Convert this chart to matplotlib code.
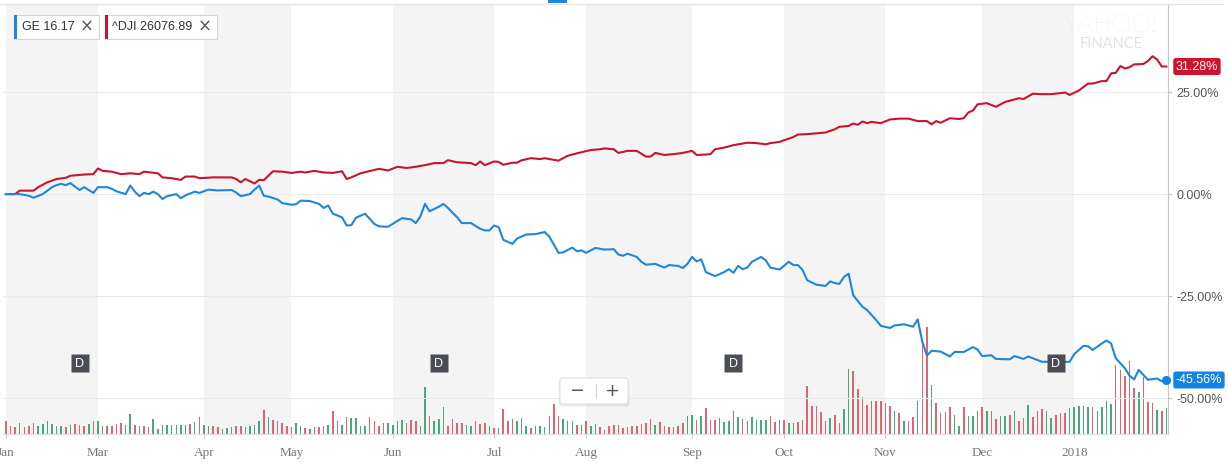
import matplotlib
matplotlib.use("Agg")
import matplotlib.pyplot as plt
from matplotlib import transforms
from matplotlib.patches import Rectangle, FancyBboxPatch
from matplotlib.lines import Line2D

W, H, DPI = 1228, 469, 100

# ---------------- data (trading-day index 0 = 31 Jan 2017) ----------------
month_days = [0, 20, 43, 62, 84, 106, 126, 149, 169, 191, 212, 232]
month_labels = ["Jan", "Mar", "Apr", "May", "Jun", "Jul", "Aug", "Sep", "Oct", "Nov", "Dec", "2018"]
last_day = 252

dji_day = [0, 2, 3, 6, 7, 9, 11, 13, 14, 17, 19, 20, 21, 23, 25, 27, 29, 30, 33, 34,
           36, 38, 39, 41, 42, 45, 49, 50, 51, 52, 54, 55, 56, 58, 60, 62, 64, 65, 67, 69,
           71, 73, 74, 75, 77, 81, 83, 85, 87, 89, 91, 93, 95, 96, 98, 101, 102, 103, 104, 106,
           107, 108, 110, 111, 112, 114, 116, 117, 120, 122, 124, 127, 129, 130, 132, 133, 135, 137, 139, 140,
           141, 143, 145, 147, 149, 150, 152, 153, 154, 156, 158, 161, 163, 165, 166, 168, 170, 171, 172, 174,
           176, 178, 180, 181, 183, 184, 185, 186, 187, 188, 190, 192, 194, 196, 198, 200, 201, 202, 203, 205,
           207, 208, 209, 210, 211, 213, 215, 217, 220, 221, 223, 225, 227, 230, 231, 233, 235, 236, 238, 239,
           240, 241, 242, 243, 244, 245, 247, 248, 249, 250, 251, 252]
dji_pct = [0, 0, 0.85, 0.85, 1.7, 2.9, 3.7, 4.0, 4.5, 4.8, 4.9, 6.3, 5.7, 5.5, 4.9, 5.1, 4.9, 5.5, 5.1, 4.1,
           3.9, 3.5, 4.3, 4.3, 3.9, 4.1, 4.1, 3.7, 2.9, 3.7, 2.6, 3.5, 3.4, 5.6, 5.5, 5.2, 5.5, 5.3, 5.7, 5.3,
           5.2, 5.6, 3.7, 4.1, 5.1, 6.2, 5.8, 6.7, 6.4, 6.7, 7.1, 7.6, 7.6, 8.3, 7.8, 7.6, 7.1, 8.0, 7.1, 8.0,
           7.9, 7.2, 7.7, 7.7, 8.3, 8.8, 8.6, 8.8, 8.2, 9.4, 10.0, 10.8, 11.0, 11.2, 11.0, 10.1, 10.6, 10.6, 9.2, 9.2,
           10.1, 9.6, 9.8, 10.1, 10.6, 9.6, 9.7, 9.8, 11.0, 11.4, 12.0, 12.6, 12.5, 12.2, 12.5, 12.8, 13.6, 14.0, 14.6, 14.7,
           14.9, 15.1, 15.9, 16.5, 16.7, 17.3, 17.0, 17.8, 17.4, 17.7, 17.4, 18.3, 18.5, 18.5, 17.9, 17.9, 17.1, 17.9, 17.5, 18.6,
           18.4, 18.6, 20.0, 20.5, 22.0, 22.3, 21.4, 22.6, 23.5, 23.3, 24.6, 24.5, 24.5, 24.9, 24.3, 25.4, 27.1, 27.1, 27.7, 27.7,
           29.6, 29.7, 31.4, 30.8, 31.1, 31.8, 31.9, 32.6, 33.8, 33.0, 31.28, 31.28]

ge_day = [0, 3, 5, 6, 8, 10, 11, 12, 13, 14, 16, 17, 19, 20, 22, 23, 24, 26, 27, 28,
          29, 30, 31, 32, 33, 34, 35, 37, 38, 39, 41, 42, 44, 46, 49, 50, 51, 53, 54, 55,
          56, 57, 59, 60, 62, 63, 64, 66, 68, 69, 70, 71, 73, 74, 75, 76, 78, 80, 81, 83,
          85, 86, 88, 89, 90, 91, 92, 94, 95, 96, 98, 99, 101, 103, 104, 105, 106, 107, 108, 110,
          111, 113, 115, 117, 118, 120, 121, 123, 124, 125, 126, 128, 130, 132, 133, 134, 135, 137, 138, 139,
          141, 143, 144, 146, 147, 148, 149, 150, 151, 152, 154, 156, 157, 158, 159, 160, 161, 162, 164, 165,
          166, 168, 170, 171, 172, 173, 174, 176, 178, 179, 180, 181, 182, 183, 184, 185, 186, 187, 189, 190,
          192, 193, 195, 197, 198, 199, 200, 201, 203, 205, 206, 208, 210, 211, 212, 214, 215, 218, 219, 221,
          222, 225, 227, 228, 231, 232, 234, 235, 236, 238, 239, 240, 241, 243, 244, 245, 246, 247, 248, 250,
          251, 252]
ge_pct = [0, 0, -0.4, -0.9, 0, 1.7, 2.2, 2.5, 2.2, 2.7, 1.0, 1.7, 0.3, 1.7, 1.7, 1.3, 0.7, 0, 2.1, 0.6,
          -0.5, 0.3, 0, 0.6, 0, -1.2, -0.5, 0, -1.0, -0.3, 0.6, 0.3, 1.1, 0.9, 1.0, 0.4, -0.5, 0, 1.1, 2.1,
          -0.4, -0.6, -1.3, -2.2, -2.6, -2.5, -1.6, -1.7, -2.4, -3.4, -2.8, -4.8, -5.7, -7.7, -7.6, -5.8, -4.8, -7.3, -7.9, -8.0,
          -6.6, -5.9, -6.2, -7.1, -5.5, -2.4, -4.2, -3.1, -2.4, -3.4, -5.7, -7.1, -7.1, -8.5, -8.9, -8.9, -7.7, -8.1, -11.2, -12.2,
          -10.9, -9.9, -9.8, -9.3, -10.4, -14.4, -14.3, -13.1, -14.0, -13.8, -14.4, -13.2, -13.6, -13.5, -14.8, -15.1, -14.6, -15.4, -16.6, -17.3,
          -17.1, -18.0, -17.4, -17.6, -18.1, -17.1, -15.4, -16.5, -16.0, -19.1, -20.1, -19.1, -18.4, -19.3, -17.6, -18.4, -18.0, -16.6, -15.4, -16.2,
          -18.0, -18.5, -16.6, -17.4, -17.4, -18.6, -21.1, -22.2, -22.5, -21.4, -21.8, -22.0, -20.3, -19.5, -24.8, -26.2, -27.6, -28.4, -30.9, -32.3,
          -32.8, -32.2, -31.9, -32.5, -30.7, -36.2, -39.6, -38.4, -38.6, -39.8, -38.7, -38.7, -37.5, -38.1, -39.7, -39.5, -40.4, -40.5, -39.7, -40.4,
          -39.8, -41.1, -41.1, -41.2, -41.1, -39.2, -37.2, -37.3, -38.2, -36.6, -35.9, -36.6, -40.2, -42.7, -44.5, -45.4, -43.1, -44.3, -45.5, -45.2,
          -45.9, -45.56]

# GE volume, millions of shares, one bar per trading day
vol_m = [32, 21, 17, 27, 18, 19, 28, 19, 25, 32,
         25, 21, 21, 17, 23, 25, 23, 21, 25, 32,
         33, 21, 19, 21, 25, 28, 23, 50, 23, 21,
         21, 17, 38, 13, 23, 23, 23, 23, 23, 23,
         25, 30, 42, 23, 21, 21, 17, 13, 14, 17,
         19, 19, 18, 21, 23, 32, 61, 43, 35, 33,
         28, 19, 18, 28, 21, 15, 13, 17, 18, 21,
         22, 57, 33, 22, 42, 40, 40, 21, 19, 42,
         32, 21, 28, 28, 23, 33, 36, 28, 36, 33,
         19, 118, 46, 33, 38, 68, 21, 38, 28, 28,
         23, 21, 32, 26, 28, 19, 15, 15, 63, 32,
         38, 33, 40, 21, 15, 19, 19, 18, 46, 75,
         46, 38, 33, 32, 22, 22, 32, 19, 25, 17,
         11, 19, 22, 22, 15, 17, 19, 19, 25, 28,
         38, 22, 29, 19, 17, 17, 19, 28, 44, 48,
         34, 46, 65, 36, 36, 40, 30, 33, 57, 43,
         38, 33, 42, 34, 34, 36, 46, 29, 34, 36,
         28, 28, 29, 34, 119, 69, 69, 54, 33, 40,
         48, 28, 63, 163, 158, 113, 92, 73, 83, 83,
         82, 78, 69, 57, 52, 33, 33, 42, 83, 225,
         267, 123, 77, 52, 54, 68, 48, 21, 67, 46,
         46, 57, 68, 57, 57, 38, 46, 46, 48, 57,
         33, 40, 73, 43, 57, 63, 57, 40, 48, 52,
         52, 64, 68, 69, 69, 67, 68, 57, 67, 83,
         75, 173, 160, 146, 183, 114, 104, 142, 81, 77,
         61, 57, 64]
vol_dir = list("DDDUDDDUUU" "UUUDUDDDUD" "UUDDDDUUDU" "DDUUUUUUUU" "DUDUUDDUUU"
               "DDUUUUDUDD" "DDDUUDUDDD" "UDDUDUUUUD" "DDDUUUUDDD" "UUDUUUDDDD"
               "UUDDDUDUDD" "DUUUDUUUDD" "DUUUDUDUUD" "DDDDDDDDDD" "DUDDDDDDUU"
               "DUDDDUUUDU" "DUUUUUDDUD" "UUDDDDDDDU" "DDUUDDDDDD" "DDDUDUDDUD"
               "DUDDDDUUDU" "UDDUDDUUDU" "DDUDDDUUDD" "DUUUUUDUUU" "UDDDDDUDDD" "UDU")

dividend_days = [16, 94, 158, 228]
y_ticks = [25, 0, -25, -50]
ge_price, dji_price = 16.17, 26076.89
ge_end, dji_end = -45.56, 31.28

assert len(dji_day) == len(dji_pct) and len(ge_day) == len(ge_pct)
assert len(vol_m) == len(vol_dir) == last_day + 1

# ---------------- styling ----------------
BLUE = "#1e86db"
RED = "#c8142f"
BADGE_RED = "#d0122c"
BADGE_BLUE = "#1283e6"
VOL_UP = "#48a97f"
VOL_DN = "#df6670"
BAND = "#f4f4f4"

plt.rcParams["font.family"] = ["Liberation Sans", "DejaVu Sans"]

fig = plt.figure(figsize=(W / DPI, H / DPI), dpi=DPI)
fig.patch.set_facecolor("white")
# image-pixel transform (x right, y down)
pxT = transforms.Affine2D().scale(1 / W, -1 / H).translate(0, 1) + fig.transFigure

L, R, T, B = 3, 1168, 4, 434
rect = [L / W, 1 - B / H, (R - L) / W, (B - T) / H]

axv = fig.add_axes(rect)
ax = fig.add_axes(rect, sharex=axv)
ax.patch.set_alpha(0)

x_lo = (L - 5.9) / 4.605
x_hi = (R - 5.9) / 4.605
ax.set_xlim(x_lo, x_hi)
ax.set_ylim(-58.8, 46.6)
axv.set_ylim(0, 1075)

# alternating month bands
bounds = month_days + [x_hi]
for k in range(0, len(bounds) - 1, 2):
    axv.axvspan(bounds[k], bounds[k + 1], color=BAND, lw=0, zorder=0)

# volume bars
axv.bar(range(len(vol_m)), vol_m, width=0.34, lw=0, zorder=2,
        color=[VOL_UP if d == "U" else VOL_DN for d in vol_dir])
axv.axis("off")

# main axes
ax.set_axisbelow(True)
ax.grid(axis="y", color="#e9e9e9", lw=0.8)
ax.spines["left"].set_visible(False)
ax.spines["right"].set_color("#c6c6c6")
ax.spines["right"].set_linewidth(0.8)
ax.spines["top"].set_color("#e4e4e4")
ax.spines["top"].set_linewidth(0.8)
ax.spines["bottom"].set_color("#e0e0e0")
ax.spines["bottom"].set_linewidth(0.8)

ax.yaxis.tick_right()
ax.set_yticks(y_ticks)
ax.set_yticklabels([f"{v:.2f}%" for v in y_ticks])
ax.tick_params(axis="y", length=3, width=0.8, color="#c6c6c6", labelsize=9,
               labelcolor="#555555", pad=3)
ax.set_xticks(month_days)
ax.set_xticklabels(month_labels)
ax.tick_params(axis="x", length=3, width=0.8, color="#cccccc", labelsize=9.5,
               labelcolor="#777777", pad=6)
for lbl in ax.get_xticklabels():
    lbl.set_fontfamily("Liberation Serif")

ax.plot(dji_day, dji_pct, color=RED, lw=1.5, zorder=3, solid_joinstyle="round")
ax.plot(ge_day, ge_pct, color=BLUE, lw=1.5, zorder=4, solid_joinstyle="round")
ax.plot([ge_day[-1]], [ge_pct[-1]], "o", ms=6.5, color=BADGE_BLUE, mec="none",
        clip_on=False, zorder=7)

# end-value badges
bt = transforms.blended_transform_factory(ax.transAxes, ax.transData)
for val, col in [(dji_end, BADGE_RED), (ge_end, BADGE_BLUE)]:
    ax.annotate(f"{val:.2f}%", xy=(1, val), xycoords=bt, xytext=(5.6, 0),
                textcoords="offset points", ha="left", va="center", color="white",
                fontsize=9, annotation_clip=False, zorder=8,
                bbox=dict(boxstyle="round,pad=0.2,rounding_size=0.2", fc=col, ec="none"))

# dividend markers
dt = transforms.blended_transform_factory(ax.transData, ax.transAxes)
ax.plot(dividend_days, [0.164] * len(dividend_days), "s", ms=13, color="#4b4f55",
        mec="none", transform=dt, zorder=5)
for d in dividend_days:
    ax.text(d, 0.162, "D", transform=dt, ha="center", va="center", color="white",
            fontsize=9, zorder=6)

# top border line
fig.add_artist(Line2D([0, 1223], [4.5, 4.5], transform=pxT, color="#e4e4e4", lw=0.8))
# small blue tab at top
fig.add_artist(Rectangle((548, 0), 19, 3.5, transform=pxT, color=BLUE, lw=0))

# legend chips
def chip(x0, x1, col, label, xx):
    fig.add_artist(Rectangle((x0, 15), x1 - x0, 24, transform=pxT, fc="white",
                             ec="#d4d4d4", lw=0.8))
    fig.add_artist(Rectangle((x0, 15), 3, 24, transform=pxT, fc=col, lw=0))
    fig.text(x0 + 7.5, 27.5, label, transform=pxT, ha="left", va="center",
             fontsize=9, color="#333333")
    fig.text(xx, 27, "×", transform=pxT, ha="center", va="center",
             fontsize=12, color="#555555", family=["DejaVu Sans"])

chip(14, 99, BLUE, f"GE {ge_price:.2f}", 86.5)
chip(105, 217, RED, f"^DJI {dji_price:.2f}", 204.5)

# watermark
fig.text(1111, 25, "YAHOO!", transform=pxT, ha="center", va="center", fontsize=18,
         color="#e3e3e3", family=["Lato", "DejaVu Sans"], fontweight="light")
fig.text(1111, 43.5, "FINANCE", transform=pxT, ha="center", va="center", fontsize=10.5,
         color="#e3e3e3", family=["Lato", "DejaVu Sans"])

# zoom control
for off, a in [(3, 0.04), (1.5, 0.06)]:
    fig.add_artist(FancyBboxPatch((560 - off / 2, 378 + off / 2), 68 + off, 26 + off / 2,
                                  boxstyle="round,pad=0,rounding_size=3", transform=pxT,
                                  fc="black", ec="none", alpha=a))
fig.add_artist(FancyBboxPatch((560, 378), 68, 26, boxstyle="round,pad=0,rounding_size=3",
                              transform=pxT, fc="white", ec="#e2e2e2", lw=0.8))
fig.add_artist(Line2D([595.5, 595.5], [384, 398], transform=pxT, color="#d6d6d6", lw=0.8))
fig.text(576.5, 391, "\u2212", transform=pxT, ha="center", va="center", fontsize=13,
         color="#555555", family=["DejaVu Sans"])
fig.text(611.5, 391, "+", transform=pxT, ha="center", va="center", fontsize=13,
         color="#555555", family=["DejaVu Sans"])

fig.savefig("out.png", dpi=DPI, facecolor="white")
